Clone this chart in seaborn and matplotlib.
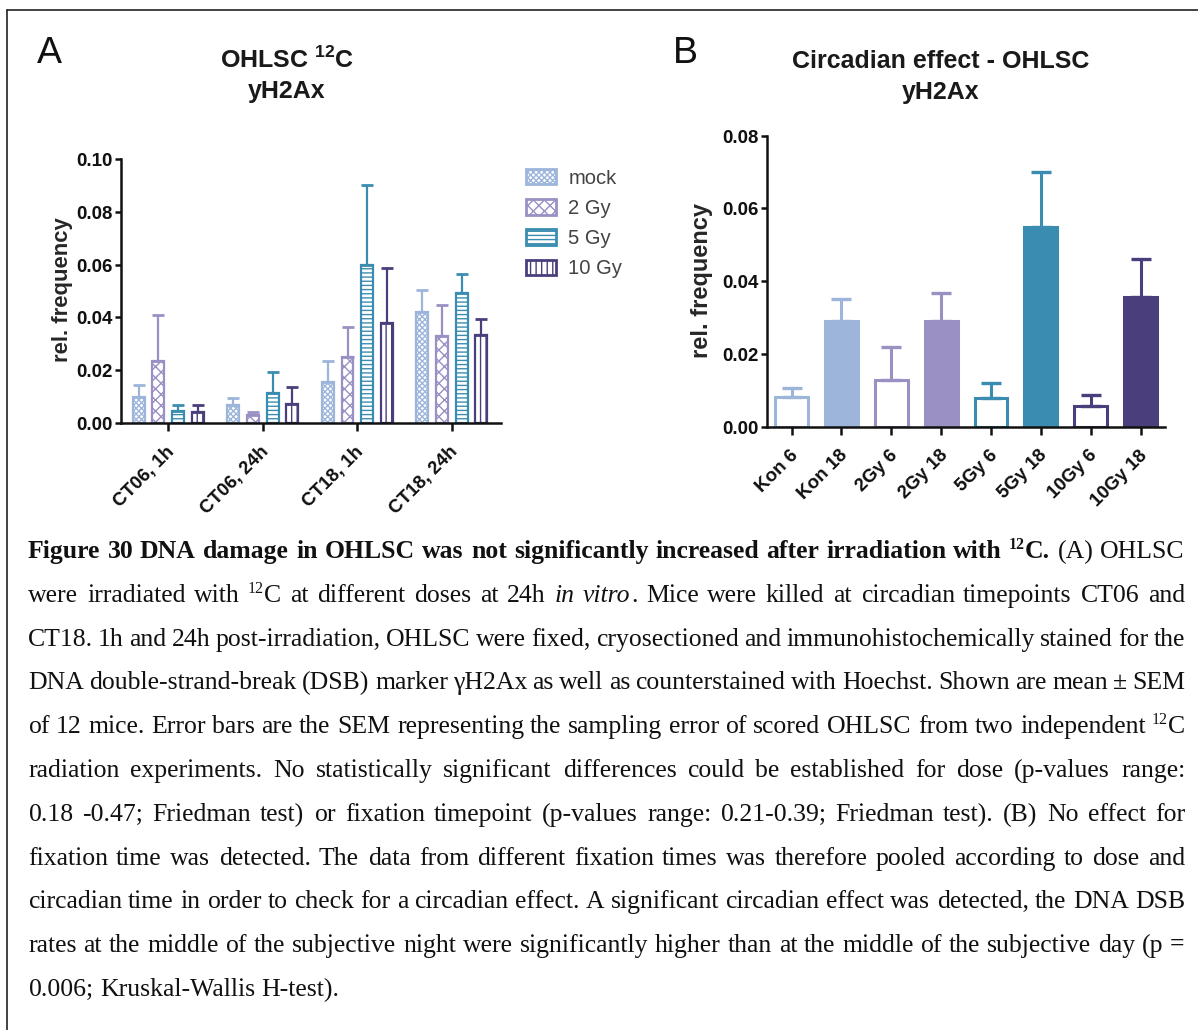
import numpy as np
import pandas as pd
import matplotlib
matplotlib.use("Agg")
import matplotlib.pyplot as plt
import seaborn as sns
from matplotlib.patches import Patch
from matplotlib.lines import Line2D
from matplotlib.transforms import IdentityTransform, ScaledTranslation

# ---------------- data ----------------
groups_a = ["CT06, 1h", "CT06, 24h", "CT18, 1h", "CT18, 24h"]
doses_a = ["mock", "2 Gy", "5 Gy", "10 Gy"]
mock_mean = [0.0098, 0.0067, 0.0155, 0.0422]
mock_sem = [0.0045, 0.0028, 0.0080, 0.0080]
gy2_mean = [0.0233, 0.0029, 0.0250, 0.0329]
gy2_sem = [0.0177, 0.0013, 0.0113, 0.0119]
gy5_mean = [0.0044, 0.0115, 0.0600, 0.0493]
gy5_sem = [0.0026, 0.0078, 0.0300, 0.0072]
gy10_mean = [0.0042, 0.0073, 0.0378, 0.0332]
gy10_sem = [0.0028, 0.0063, 0.0211, 0.0063]

labels_b = ["Kon 6", "Kon 18", "2Gy 6", "2Gy 18", "5Gy 6", "5Gy 18", "10Gy 6", "10Gy 18"]
mean_b = [0.0082, 0.0290, 0.0128, 0.0290, 0.0080, 0.0550, 0.0057, 0.0357]
sem_b = [0.0025, 0.0061, 0.0092, 0.0078, 0.0039, 0.0149, 0.0030, 0.0104]
open_b = [True, False, True, False, True, False, True, False]

yticks_a = [0.00, 0.02, 0.04, 0.06, 0.08, 0.10]
yticks_b = [0.00, 0.02, 0.04, 0.06, 0.08]

# markup: *bold*, _italic_, ^superscript^
caption_lines = [
    "*Figure 30 DNA damage in OHLSC was not significantly increased after irradiation with ^12^C.* (A) OHLSC",
    "were irradiated with ^12^C at different doses at 24h _in vitro_. Mice were killed at circadian timepoints CT06 and",
    "CT18. 1h and 24h post-irradiation, OHLSC were fixed, cryosectioned and immunohistochemically stained for the",
    "DNA double-strand-break (DSB) marker γH2Ax as well as counterstained with Hoechst. Shown are mean ± SEM",
    "of 12 mice. Error bars are the SEM representing the sampling error of scored OHLSC from two independent ^12^C",
    "radiation experiments. No statistically significant differences could be established for dose (p-values range:",
    "0.18 -0.47; Friedman test) or fixation timepoint (p-values range: 0.21-0.39; Friedman test). (B) No effect for",
    "fixation time was detected. The data from different fixation times was therefore pooled according to dose and",
    "circadian time in order to check for a circadian effect. A significant circadian effect was detected, the DNA DSB",
    "rates at the middle of the subjective night were significantly higher than at the middle of the subjective day (p =",
    "0.006; Kruskal-Wallis H-test).",
]

# ---------------- style ----------------
colors = {"mock": "#9db5da", "2 Gy": "#9b90c4", "5 Gy": "#3a8db0", "10 Gy": "#4a3f7c"}
hatches = {"mock": "xxxxxx", "2 Gy": "xxx", "5 Gy": "----", "10 Gy": "|||"}
colors_b = ["#9db5da", "#9db5da", "#9b90c4", "#9b90c4", "#3a8db0", "#3a8db0", "#4a3f7c", "#4a3f7c"]

sns.set_style("ticks")
plt.rcParams["font.family"] = ["Liberation Sans", "DejaVu Sans"]
plt.rcParams["hatch.linewidth"] = 1.0
plt.rcParams["mathtext.fontset"] = "custom"
plt.rcParams["mathtext.rm"] = "Liberation Sans"
plt.rcParams["mathtext.bf"] = "Liberation Sans:bold"
plt.rcParams["text.hinting"] = "native"

W, H = 1198, 1030
fig = plt.figure(figsize=(W / 100, H / 100), dpi=100)

def px_ax(l, r, b, t):
    return [l / W, (H - b) / H, (r - l) / W, (b - t) / H]

TICK_FS = 13.5
AX_LW = 1.8

# ---------------- panel A ----------------
axA = fig.add_axes(px_ax(121, 501, 423, 159))
means_a = {"mock": mock_mean, "2 Gy": gy2_mean, "5 Gy": gy5_mean, "10 Gy": gy10_mean}
sems_a = {"mock": mock_sem, "2 Gy": gy2_sem, "5 Gy": gy5_sem, "10 Gy": gy10_sem}
df_a = pd.DataFrame({
    "group": [g for d in doses_a for g in groups_a],
    "dose": [d for d in doses_a for g in groups_a],
    "mean": [v for d in doses_a for v in means_a[d]],
})
sns.barplot(data=df_a, x="group", y="mean", hue="dose", order=groups_a, hue_order=doses_a,
            palette=colors, width=0.83, gap=0.39, errorbar=None, legend=False, ax=axA)
for cont, d in zip(axA.containers, doses_a):
    xs = []
    for bar in cont:
        bar.set_facecolor("white")
        bar.set_edgecolor(colors[d])
        bar.set_hatch(hatches[d])
        bar.set_linewidth(1.6)
        xs.append(bar.get_x() + bar.get_width() / 2)
    axA.errorbar(xs, means_a[d], yerr=[np.zeros(len(xs)), sems_a[d]], fmt="none",
                 ecolor=colors[d], elinewidth=1.6, capsize=4.2, capthick=2.0, zorder=1)
axA.set_ylim(0, 0.10)
axA.set_xlim(-0.5, 3.52)
axA.set_yticks(yticks_a)
axA.set_yticklabels([f"{v:.2f}" for v in yticks_a])
axA.set_xlabel("")
axA.set_ylabel("rel. frequency", fontsize=15.8, fontweight="bold")
axA.yaxis.set_label_coords(-0.127, 0.505)

legend_handles = [Patch(facecolor="white", edgecolor=colors[d], hatch=hatches[d], linewidth=2.0)
                  for d in doses_a]
leg = axA.legend(legend_handles, doses_a, loc="upper left",
                 bbox_to_anchor=(526 / W, 1 - 169 / H), bbox_transform=fig.transFigure,
                 frameon=False, fontsize=14.5, handlelength=1.5, handleheight=0.8,
                 labelspacing=0.57, handletextpad=0.6, borderpad=0, borderaxespad=0)
for t in leg.get_texts():
    t.set_color("#444444")

# ---------------- panel B ----------------
axB = fig.add_axes(px_ax(766.7, 1165, 426.7, 135.7))
df_b = pd.DataFrame({"label": labels_b, "mean": mean_b})
sns.barplot(data=df_b, x="label", y="mean", hue="label", order=labels_b, hue_order=labels_b,
            palette=colors_b, width=0.66, errorbar=None, legend=False, ax=axB)
bars_b = [p for c in axB.containers for p in c]
bars_b = sorted(bars_b, key=lambda p: p.get_x())
xs_b = []
for bar, c, o in zip(bars_b, colors_b, open_b):
    bar.set_facecolor("white" if o else c)
    bar.set_edgecolor(c)
    bar.set_linewidth(2.2)
    xs_b.append(bar.get_x() + bar.get_width() / 2)
for x, m, s, c in zip(xs_b, mean_b, sem_b, colors_b):
    axB.errorbar([x], [m], yerr=[[0], [s]], fmt="none", ecolor=c, elinewidth=2.2,
                 capsize=7, capthick=2.4, zorder=1)
axB.set_ylim(0, 0.08)
axB.set_xlim(-0.5, 7.49)
axB.set_yticks(yticks_b)
axB.set_yticklabels([f"{v:.2f}" for v in yticks_b])
axB.set_xlabel("")
axB.set_ylabel("rel. frequency", fontsize=17, fontweight="bold")
axB.yaxis.set_label_coords(-0.135, 0.504)

for ax in (axA, axB):
    sns.despine(ax=ax)
    for sp in ("left", "bottom"):
        ax.spines[sp].set_linewidth(AX_LW)
        ax.spines[sp].set_color("#111111")
    ax.tick_params(axis="y", direction="out", length=4.5, width=AX_LW, pad=1.5,
                   labelsize=TICK_FS, colors="#111111")
    ax.tick_params(axis="x", direction="out", length=6.0, width=AX_LW, pad=1.5,
                   labelsize=TICK_FS, colors="#111111")
    for lab in ax.get_yticklabels():
        lab.set_fontweight("bold")
    for lab in ax.get_xticklabels():
        lab.set_fontweight("bold")
        lab.set_rotation(45)
        lab.set_ha("right")
        lab.set_va("top")
        lab.set_rotation_mode("anchor")
        lab.set_transform(lab.get_transform() + ScaledTranslation(-0.03, -0.09, fig.dpi_scale_trans))
    ax.set_facecolor("white")
    ax.grid(False)

# ---------------- titles / panel letters ----------------
TITLE_FS = 18
fig.text(287 / W, 1 - 68 / H, r"OHLSC $^{\mathbf{12}}$C", ha="center", va="baseline",
         fontsize=TITLE_FS, fontweight="bold", color="#1a1a1a")
fig.text(287 / W, 1 - 98 / H, "yH2Ax", ha="center", va="baseline", fontsize=TITLE_FS,
         fontweight="bold", color="#1a1a1a")
fig.text(941 / W, 1 - 68 / H, "Circadian effect - OHLSC", ha="center", va="baseline",
         fontsize=TITLE_FS, fontweight="bold", color="#1a1a1a")
fig.text(941 / W, 1 - 99 / H, "yH2Ax", ha="center", va="baseline", fontsize=TITLE_FS,
         fontweight="bold", color="#1a1a1a")
fig.text(37 / W, 1 - 63 / H, "A", ha="left", va="baseline", fontsize=27, color="#111111")
fig.text(673 / W, 1 - 63 / H, "B", ha="left", va="baseline", fontsize=27, color="#111111")

# ---------------- border ----------------
fig.add_artist(Line2D([7 / W, 1], [1 - 10 / H, 1 - 10 / H], transform=fig.transFigure,
                      color="#222222", linewidth=1.2))
fig.add_artist(Line2D([7 / W, 7 / W], [0, 1 - 10 / H], transform=fig.transFigure,
                      color="#222222", linewidth=1.2))

# ---------------- caption (justified) ----------------
CAP_FS = 18.5
SUP_FS = CAP_FS * 0.62
SUP_RISE = CAP_FS * 100 / 72 * 0.36
CAP_L, CAP_R = 28, 1185
BASE0, LSTEP = 558, 43.8
renderer = fig.canvas.get_renderer()

def parse_words(line, state):
    words = []
    for raw in line.split(" "):
        segs = []
        cur = ""
        for ch in raw:
            if ch in "*_^":
                if cur:
                    segs.append((cur, state["b"], state["i"], state["s"]))
                    cur = ""
                key = {"*": "b", "_": "i", "^": "s"}[ch]
                state[key] = not state[key]
            else:
                cur += ch
        if cur:
            segs.append((cur, state["b"], state["i"], state["s"]))
        if segs:
            words.append(segs)
    return words

def make_text(s, b, i, sup):
    return fig.text(0, 0, s, transform=IdentityTransform(),
                    fontsize=SUP_FS if sup else CAP_FS,
                    family=["Liberation Serif", "DejaVu Serif"],
                    fontweight="bold" if b else "normal",
                    fontstyle="italic" if i else "normal",
                    ha="left", va="baseline", color="#111111")

def width_of(t):
    return t.get_window_extent(renderer).width

probe1 = make_text("x x", False, False, False)
probe2 = make_text("xx", False, False, False)
space_w = width_of(probe1) - width_of(probe2)
probe1.remove()
probe2.remove()

state = {"b": False, "i": False, "s": False}
for li, line in enumerate(caption_lines):
    words = parse_words(line, state)
    word_objs = []
    total = 0.0
    for segs in words:
        objs = []
        ww = 0.0
        for s, b, i, sup in segs:
            t = make_text(s, b, i, sup)
            w = width_of(t)
            objs.append((t, w, sup))
            ww += w
        word_objs.append((objs, ww))
        total += ww
    last = li == len(caption_lines) - 1
    if last or len(word_objs) < 2:
        gap = space_w
    else:
        gap = (CAP_R - CAP_L - total) / (len(word_objs) - 1)
    x = CAP_L
    y = round(H - (BASE0 + li * LSTEP))
    for objs, ww in word_objs:
        xx = x
        for t, w, sup in objs:
            t.set_position((round(xx), y + (round(SUP_RISE) if sup else 0)))
            xx += w
        x += ww + gap

fig.savefig("out.png", dpi=100, facecolor="white")
